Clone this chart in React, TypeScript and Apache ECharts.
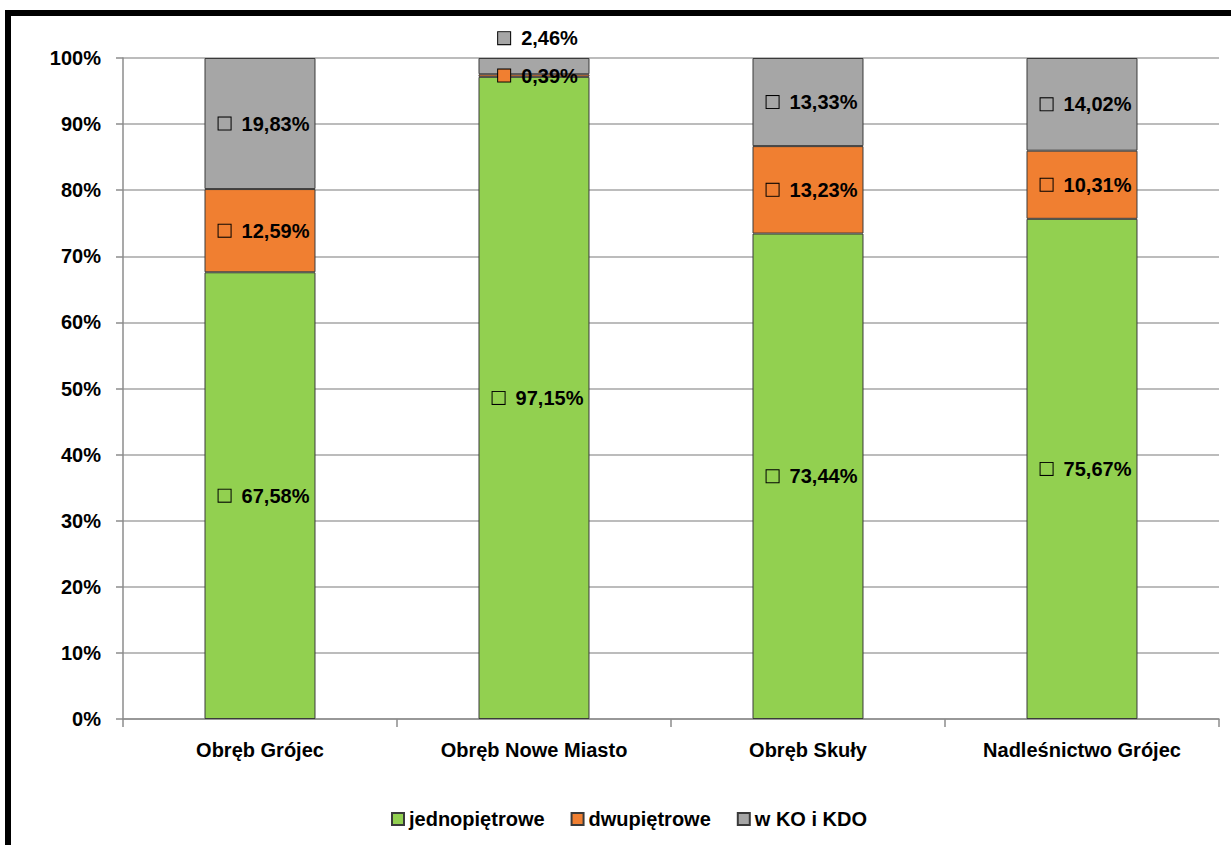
import React, { useEffect, useRef } from "react";
import * as echarts from "echarts";

const categories = ["Obręb Grójec", "Obręb Nowe Miasto", "Obręb Skuły", "Nadleśnictwo Grójec"];
const jednopietrowe = [67.58, 97.15, 73.44, 75.67];
const dwupietrowe = [12.59, 0.39, 13.23, 10.31];
const wKoIKdo = [19.83, 2.46, 13.33, 14.02];
const seriesNames = ["jednopiętrowe", "dwupiętrowe", "w KO i KDO"];
const colors = ["#92D050", "#F07F31", "#A6A6A6"];

const FONT = "'Liberation Sans', Arial, sans-serif";
const FS = 20;

function fmt(v: number) {
  return v.toFixed(2).replace(".", ",") + "%";
}

function makeSeries(name: string, values: number[], color: string, liftIndex: number | null) {
  return {
    name,
    type: "bar",
    stack: "total",
    barWidth: "40.5%",
    itemStyle: { color, borderColor: "#3a3a3a", borderWidth: 1 },
    label: {
      show: true,
      position: "inside",
      offset: [4, 0],
      formatter: (p: any) => "{box|}{gap|}{v|" + fmt(p.value) + "}",
      rich: {
        box: {
          width: 12,
          height: 12,
          backgroundColor: color,
          borderColor: "#000",
          borderWidth: 1,
        },
        gap: { width: 11 },
        v: { fontFamily: FONT, fontWeight: "bold", fontSize: FS, color: "#000" },
      },
    },
    data: values.map((v, i) =>
      i === liftIndex ? { value: v, label: { offset: [4, -28] } } : v
    ),
  };
}

export default function App() {
  const ref = useRef<HTMLDivElement>(null);
  useEffect(() => {
    document.body.style.margin = "0";
    const chart = echarts.init(ref.current!, null, { renderer: "svg" });
    chart.setOption({
      animation: false,
      backgroundColor: "#fff",
      textStyle: { fontFamily: FONT },
      graphic: [
        {
          type: "rect",
          shape: { x: 8, y: 13, width: 1400, height: 1000 },
          style: { fill: "none", stroke: "#000", lineWidth: 6 },
          silent: true,
        },
      ],
      grid: { left: 123, top: 58, right: 12, bottom: 126 },
      legend: {
        top: 804,
        left: 386,
        itemWidth: 12,
        itemHeight: 12,
        itemGap: 26,
        icon: "rect",
        textStyle: { fontFamily: FONT, fontWeight: "bold", fontSize: FS, color: "#000" },
        data: seriesNames,
      },
      xAxis: {
        type: "category",
        data: categories,
        axisLine: { lineStyle: { color: "#8c8c8c", width: 1.5 } },
        axisTick: { show: true, length: 8, lineStyle: { color: "#8c8c8c", width: 1.5 } },
        axisLabel: {
          interval: 0,
          margin: 21,
          fontFamily: FONT,
          fontWeight: "bold",
          fontSize: FS,
          color: "#000",
        },
      },
      yAxis: {
        type: "value",
        min: 0,
        max: 100,
        interval: 10,
        axisLine: { show: true, lineStyle: { color: "#8c8c8c", width: 1.5 } },
        axisTick: { show: true, length: 7, lineStyle: { color: "#8c8c8c", width: 1.5 } },
        splitLine: { lineStyle: { color: "#a6a6a6", width: 1.5 } },
        axisLabel: {
          margin: 22,
          formatter: "{value}%",
          fontFamily: FONT,
          fontWeight: "bold",
          fontSize: FS,
          color: "#000",
        },
      },
      series: [
        makeSeries(seriesNames[0], jednopietrowe, colors[0], null),
        makeSeries(seriesNames[1], dwupietrowe, colors[1], null),
        makeSeries(seriesNames[2], wKoIKdo, colors[2], 1),
      ],
    });
    return () => chart.dispose();
  }, []);
  return (
    <div
      ref={ref}
      style={{ position: "absolute", left: 0, top: 0, width: 1231, height: 845 }}
    />
  );
}
